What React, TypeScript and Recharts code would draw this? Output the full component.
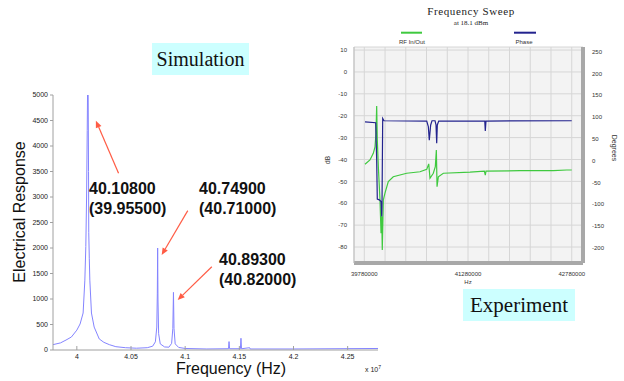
import { LineChart, Line, XAxis, YAxis, CartesianGrid, ReferenceLine } from "recharts"

// ---- Simulation (left), frequency in units of 1e7 Hz ----
const simFreq = [
  3.978, 3.985, 3.99, 3.995, 4.0, 4.003, 4.0058, 4.0074, 4.0083, 4.009, 4.0096,
  4.01, 4.0104, 4.0108, 4.011, 4.0115, 4.012, 4.0135, 4.016, 4.0207, 4.025,
  4.03, 4.036, 4.045, 4.055, 4.065, 4.07, 4.0725, 4.0738, 4.0743, 4.0746,
  4.0749, 4.0755, 4.077, 4.081, 4.085, 4.0875, 4.0886, 4.0892, 4.0897, 4.0908,
  4.094, 4.1, 4.12, 4.14, 4.1405, 4.141, 4.151, 4.1515, 4.152, 4.1595, 4.16,
  4.2, 4.278
]
const simResponse = [
  105, 140, 195, 255, 390, 510, 725, 1370, 2030, 3000, 4300,
  5300, 5300, 3500, 2300, 1800, 1370, 725, 450, 216, 150,
  105, 65, 45, 35, 45, 75, 160, 450, 1100, 2000,
  1000, 320, 120, 60, 55, 130, 420, 1130, 420, 120,
  50, 30, 20, 25, 165, 25, 25, 230, 25, 45, 20,
  20, 30
]
const simTicksX = [4, 4.05, 4.1, 4.15, 4.2, 4.25]
const simTicksY = [0, 500, 1000, 1500, 2000, 2500, 3000, 3500, 4000, 4500, 5000]

const peakNames = ["40.10800", "40.74900", "40.89300"]
const peakMeasured = ["(39.95500)", "(40.71000)", "(40.82000)"]
// arrows, tail -> tip, in data units
const arrowTails = [[4.0385, 3465], [4.1024, 2732], [4.1246, 1633]]
const arrowTips = [[4.0176, 4497], [4.0783, 1863], [4.0931, 980]]

// ---- Experiment (right) ----
const rfFreq = [
  39790000, 39862000, 39910000, 39935000, 39949000, 39959000, 39968000, 39983000,
  40007000, 40022000, 40032000, 40040000, 40055000, 40079000, 40127000, 40199000,
  40393000, 40586000, 40683000, 40712000, 40730000, 40778000, 40807000, 40822000,
  40832000, 40851000, 40923000, 41309000, 41516000, 41530000, 41540000, 42032000,
  42514000, 42708000, 42780000
]
const rfDb = [
  -42.2, -40.2, -37.2, -34.2, -28, -15.6, -31, -43.3,
  -58.5, -73.7, -66, -81.3, -58.5, -55.4, -50.1, -47.9,
  -46.3, -45.6, -44.5, -42, -48.6, -46.3, -43.3, -35.7,
  -52.4, -47.9, -46.3, -45.8, -45.3, -47.1, -45.3, -45.1,
  -45.1, -44.8, -44.8
]
const phaseFreq = [
  39790000, 39945000, 39959000, 39968000, 39997000, 40022000, 40032000, 40036000,
  40046000, 40065000, 40683000, 40706000, 40720000, 40740000, 40759000, 40803000,
  40817000, 40827000, 40836000, 40856000, 41522000, 41530000, 41540000, 42780000
]
const phaseDeg = [
  89, 87, 1.6, -88, -90, -94, -128, -105,
  97, 91.6, 91, 78, 47, 82, 91.6, 91.6,
  82, 40, 82, 91, 91, 68, 91, 91.6
]
const dbTicks = [-80, -70, -60, -50, -40, -30, -20, -10, 0, 10]
const degTicks = [-200, -150, -100, -50, 0, 50, 100, 150, 200, 250]
const hzGrid = [
  39780000, 40080000, 40380000, 40680000, 40980000, 41280000,
  41580000, 41880000, 42180000, 42480000, 42780000
]
const hzLabels = [39780000, 41280000, 42780000]

const simData = simFreq.map((f, i) => ({ f, v: simResponse[i] }))
const rfData = rfFreq.map((f, i) => ({ f, v: rfDb[i] }))
const phaseData = phaseFreq.map((f, i) => ({ f, v: phaseDeg[i] }))

const SANS = "'Liberation Sans', Arial, sans-serif"
const SERIF = "'Liberation Serif', 'Times New Roman', serif"
const AXIS = "#a0a0a0"
const ARROW = "#ff5c45"
const GREEN = "#3fc93f"
const NAVY = "#23238e"

const bottomTick = (p: any) => (
  <g>
    <line x1={p.x} x2={p.x} y1={p.y} y2={p.y - 4} stroke={AXIS} />
    <text x={p.x} y={p.y + 9} textAnchor="middle" fontSize={7} fill="#222" fontFamily={SANS}>
      {p.payload.value}
    </text>
  </g>
)
const topTick = (p: any) => <line x1={p.x} x2={p.x} y1={p.y} y2={p.y + 4} stroke={AXIS} />
const rightTick = (p: any) => <line x1={p.x} x2={p.x - 4} y1={p.y} y2={p.y} stroke={AXIS} />

const arrowShape = (p: any) => {
  const { x1, y1, x2, y2 } = p
  const a = Math.atan2(y2 - y1, x2 - x1)
  const bx = x2 - 7 * Math.cos(a)
  const by = y2 - 7 * Math.sin(a)
  const s = Math.sin(a) * 3
  const c = Math.cos(a) * 3
  return (
    <g>
      <line x1={x1} y1={y1} x2={bx} y2={by} stroke={ARROW} strokeWidth={1.2} />
      <polygon points={`${x2},${y2} ${bx + s},${by - c} ${bx - s},${by + c}`} fill={ARROW} />
    </g>
  )
}

function SimulationChart() {
  return (
    <div style={{ position: "absolute", left: 0, top: 0 }}>
      <LineChart width={400} height={381} data={simData} margin={{ top: 95, right: 22, bottom: 0, left: 0 }}>
        <XAxis
          dataKey="f"
          type="number"
          domain={[3.978, 4.278]}
          ticks={simTicksX}
          interval={0}
          allowDataOverflow
          height={31}
          tickSize={0}
          tickMargin={0}
          tickLine={false}
          axisLine={{ stroke: AXIS }}
          tick={bottomTick}
        />
        <XAxis
          xAxisId="top"
          orientation="top"
          dataKey="f"
          type="number"
          domain={[3.978, 4.278]}
          ticks={simTicksX}
          interval={0}
          allowDataOverflow
          height={0}
          tickSize={0}
          tickMargin={0}
          tickLine={false}
          axisLine={{ stroke: AXIS }}
          tick={topTick}
        />
        <YAxis
          type="number"
          domain={[0, 5000]}
          ticks={simTicksY}
          interval={0}
          allowDataOverflow
          width={53}
          tickSize={3}
          tickMargin={2}
          axisLine={{ stroke: AXIS }}
          tickLine={{ stroke: AXIS }}
          tick={{ fontSize: 7, fill: "#222", fontFamily: SANS }}
        />
        <YAxis
          yAxisId="right"
          orientation="right"
          type="number"
          domain={[0, 5000]}
          ticks={simTicksY}
          interval={0}
          width={0}
          tickSize={0}
          tickMargin={0}
          tickLine={false}
          axisLine={{ stroke: AXIS }}
          tick={rightTick}
        />
        <Line
          dataKey="v"
          type="linear"
          stroke="#8484ff"
          strokeWidth={1}
          dot={false}
          isAnimationActive={false}
        />
        {arrowTails.map((t, i) => (
          <ReferenceLine
            key={i}
            segment={[
              { x: t[0], y: t[1] },
              { x: arrowTips[i][0], y: arrowTips[i][1] }
            ]}
            shape={arrowShape}
          />
        ))}
      </LineChart>
      <svg width={400} height={381} style={{ position: "absolute", left: 0, top: 0, pointerEvents: "none" }}>
        <text
          x={19}
          y={212}
          transform="rotate(-90 19 212)"
          textAnchor="middle"
          dominantBaseline="central"
          fontSize={16}
          fontFamily={SANS}
          fill="#111"
        >
          Electrical Response
        </text>
        <text x={231} y={368} textAnchor="middle" dominantBaseline="central" fontSize={16} fontFamily={SANS} fill="#111">
          Frequency (Hz)
        </text>
        <text x={365} y={372} fontSize={7} fontFamily={SANS} fill="#222">
          x 10<tspan dy={-3} fontSize={5}>7</tspan>
        </text>
        {peakNames.map((name, i) => {
          const lx = [89, 199, 219][i]
          const ly = [193.5, 193.5, 265][i]
          return (
            <g key={name} fontSize={16} fontWeight="bold" fontFamily={SANS} fill="#111">
              <text x={lx} y={ly}>{name}</text>
              <text x={lx} y={ly + 20}>{peakMeasured[i]}</text>
            </g>
          )
        })}
      </svg>
    </div>
  )
}

function ExperimentChart() {
  return (
    <div style={{ position: "absolute", left: 323, top: 0, width: 301, height: 286, background: "#fff" }}>
      <LineChart width={301} height={286} margin={{ top: 47, right: 0, bottom: 0, left: 6 }}>
        <CartesianGrid yAxisId="db" fill="#f3f3f3" stroke="#d6d6d6" />
        <XAxis
          dataKey="f"
          type="number"
          domain={[39631000, 42943000]}
          ticks={hzGrid}
          interval={0}
          height={23}
          tickSize={0}
          tickMargin={9}
          tickLine={false}
          axisLine={{ stroke: "#a8a8a8", strokeWidth: 4 }}
          tickFormatter={(v: number) => (hzLabels.includes(v) ? String(v) : "")}
          tick={{ fontSize: 6, fill: "#333", fontFamily: SANS }}
        />
        <YAxis
          yAxisId="db"
          type="number"
          domain={[-87.3, 11.4]}
          ticks={dbTicks}
          interval={0}
          width={25}
          tickSize={0}
          tickMargin={7}
          tickLine={false}
          axisLine={{ stroke: "#bdbdbd" }}
          tick={{ fontSize: 6, fill: "#333", fontFamily: SANS }}
        />
        <YAxis
          yAxisId="deg"
          orientation="right"
          type="number"
          domain={[-235, 261]}
          ticks={degTicks}
          interval={0}
          width={41}
          tickSize={0}
          tickMargin={9}
          tickLine={false}
          axisLine={{ stroke: "#a8a8a8", strokeWidth: 4 }}
          tick={{ fontSize: 6, fill: "#333", fontFamily: SANS }}
        />
        <Line
          yAxisId="db"
          data={rfData}
          dataKey="v"
          type="linear"
          stroke={GREEN}
          strokeWidth={1.2}
          dot={false}
          isAnimationActive={false}
        />
        <Line
          yAxisId="deg"
          data={phaseData}
          dataKey="v"
          type="linear"
          stroke={NAVY}
          strokeWidth={1.2}
          dot={false}
          isAnimationActive={false}
        />
      </LineChart>
      <svg width={301} height={286} style={{ position: "absolute", left: 0, top: 0, pointerEvents: "none" }}>
        <text x={148} y={15} textAnchor="middle" fontSize={11} letterSpacing={0.6} fontFamily={SERIF} fill="#222">
          Frequency Sweep
        </text>
        <text x={148} y={25} textAnchor="middle" fontSize={7} fontFamily={SERIF} fill="#222">
          at 18.1 dBm
        </text>
        <rect x={78} y={31.7} width={21} height={2} fill={GREEN} />
        <text x={89} y={43.5} textAnchor="middle" fontSize={6} fontFamily={SANS} fill="#333">
          RF In/Out
        </text>
        <rect x={191} y={31.7} width={22} height={2} fill={NAVY} />
        <text x={201} y={43.5} textAnchor="middle" fontSize={6} fontFamily={SANS} fill="#333">
          Phase
        </text>
        <text x={4} y={160} transform="rotate(-90 4 160)" textAnchor="middle" dominantBaseline="central" fontSize={6.5} fontFamily={SANS} fill="#333">
          dB
        </text>
        <text x={291} y={148} transform="rotate(90 291 148)" textAnchor="middle" dominantBaseline="central" fontSize={7} fontFamily={SANS} fill="#333">
          Degrees
        </text>
        <text x={145} y={283.5} textAnchor="middle" fontSize={6} fontFamily={SANS} fill="#333">
          Hz
        </text>
      </svg>
    </div>
  )
}

const boxStyle = {
  position: "absolute" as const,
  background: "#ccffff",
  fontFamily: SERIF,
  color: "#111",
  textAlign: "center" as const,
  height: 32,
  lineHeight: "32px"
}

export default function App() {
  return (
    <div style={{ position: "absolute", left: 0, top: 0, width: 624, height: 381, background: "#fff", overflow: "hidden" }}>
      <SimulationChart />
      <ExperimentChart />
      <div style={{ ...boxStyle, left: 152, top: 43, width: 97, fontSize: 20 }}>Simulation</div>
      <div style={{ ...boxStyle, left: 463, top: 289, width: 112, fontSize: 21 }}>Experiment</div>
    </div>
  )
}
